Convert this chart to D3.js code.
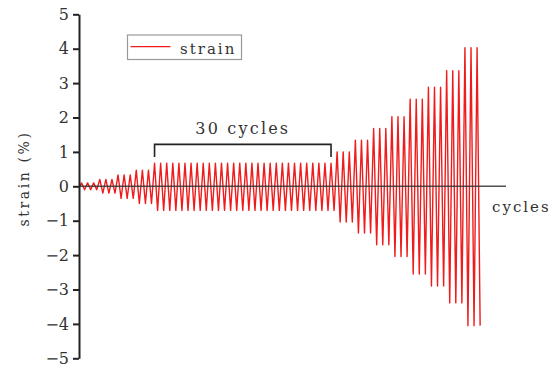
<!DOCTYPE html>
<html>
<head>
<meta charset="utf-8">
<script src="https://cdn.jsdelivr.net/npm/d3@7"></script>
<style>
    body { margin: 0; background: #fff; }
    svg { display: block; }
    .lbl { font-family: "DejaVu Serif", serif; fill: #333; }
</style>
</head>
<body>
<div id="chart"></div>
<script>
// Peak / trough strain (%) of each loading level, and how many cycles at each level
const peakValues = [0.1, 0.2, 0.33, 0.47, 0.67, 1.0, 1.34, 1.68, 2.02, 2.53, 2.88, 3.36, 4.03];
const troughValues = [-0.1, -0.2, -0.35, -0.5, -0.7, -1.04, -1.36, -1.7, -2.04, -2.55, -2.9, -3.39, -4.05];
const cyclesPerLevel = [3, 3, 3, 3, 30, 3, 3, 3, 3, 3, 3, 3, 3];
const yTicks = [-5, -4, -3, -2, -1, 0, 1, 2, 3, 4, 5];
const bracketLevel = 4; // the 30-cycle level
const seriesName = 'strain';

const width = 559;
const height = 372;

const svg = d3.select('#chart')
    .append('svg')
    .attr('width', width)
    .attr('height', height);

// Scales
const xScale = d3.scaleLinear()
    .domain([0, 70])
    .range([80, 506]);

const yScale = d3.scaleLinear()
    .domain([-5, 5])
    .range([358.3, 14.3]);

// Build the cyclic signal: each cycle goes up to the peak then down to the trough
const points = [{ t: 0, v: 0 }];
const levelStart = [];
let c = 0;
peakValues.forEach((p, i) => {
    levelStart.push(c);
    for (let k = 0; k < cyclesPerLevel[i]; k++) {
        points.push({ t: c + 0.25, v: p });
        points.push({ t: c + 0.75, v: troughValues[i] });
        c++;
    }
});

const line = d3.line()
    .x(d => xScale(d.t))
    .y(d => yScale(d.v));

svg.append('path')
    .datum(points)
    .attr('d', line)
    .attr('fill', 'none')
    .attr('stroke', '#ee1c1c')
    .attr('stroke-width', 1.4)
    .attr('stroke-linejoin', 'round');

// Zero line (horizontal axis)
svg.append('line')
    .attr('x1', xScale(0) - 1)
    .attr('x2', xScale(70))
    .attr('y1', yScale(0))
    .attr('y2', yScale(0))
    .attr('stroke', '#333')
    .attr('stroke-opacity', 0.85)
    .attr('stroke-width', 1.6);

// Y axis
const yAxis = svg.append('g')
    .attr('transform', `translate(${xScale(0) - 1},0)`)
    .call(d3.axisLeft(yScale).tickValues(yTicks).tickSize(6).tickSizeOuter(0).tickPadding(4));
yAxis.select('.domain').attr('stroke', '#222').attr('stroke-width', 2);
yAxis.selectAll('.tick line').attr('stroke', '#222').attr('stroke-width', 2);
yAxis.selectAll('.tick text')
    .attr('class', 'lbl')
    .style('font-size', '16px')
    .attr('fill', '#333');

// Axis titles
svg.append('text')
    .attr('class', 'lbl')
    .attr('transform', 'translate(29,178.5) rotate(-90)')
    .attr('text-anchor', 'middle')
    .style('font-size', '14px')
    .style('letter-spacing', '2.6px')
    .text('strain (%)');

svg.append('text')
    .attr('class', 'lbl')
    .attr('x', 492)
    .attr('y', 212)
    .style('font-size', '15px')
    .style('letter-spacing', '2px')
    .text('cycles');

// Bracket over the 30 constant-amplitude cycles
const bx1 = xScale(levelStart[bracketLevel] + 0.25);
const bx2 = xScale(levelStart[bracketLevel] + cyclesPerLevel[bracketLevel] - 0.75);
const byTop = yScale(peakValues[bracketLevel] + 1.22 - 0.67);
const byBot = yScale(peakValues[bracketLevel] + 0.85 - 0.67);
svg.append('path')
    .attr('d', `M${bx1},${byBot}V${byTop}H${bx2}V${byBot}`)
    .attr('fill', 'none')
    .attr('stroke', '#222')
    .attr('stroke-width', 1.6);

svg.append('text')
    .attr('class', 'lbl')
    .attr('x', (bx1 + bx2) / 2)
    .attr('y', byTop - 10)
    .attr('text-anchor', 'middle')
    .style('font-size', '16px')
    .style('letter-spacing', '2.2px')
    .text(`${cyclesPerLevel[bracketLevel]} cycles`);

// Legend
const legend = svg.append('g').attr('transform', 'translate(127.5,35)');
legend.append('rect')
    .attr('width', 114)
    .attr('height', 24.5)
    .attr('fill', '#fff')
    .attr('stroke', '#999')
    .attr('stroke-width', 1.2);
legend.append('line')
    .attr('x1', 3).attr('x2', 43)
    .attr('y1', 11.7).attr('y2', 11.7)
    .attr('stroke', '#ee1c1c')
    .attr('stroke-width', 1.3);
legend.append('text')
    .attr('class', 'lbl')
    .attr('x', 52.5)
    .attr('y', 19)
    .style('font-size', '15px')
    .style('letter-spacing', '2px')
    .text(seriesName);
</script>
</body>
</html>
